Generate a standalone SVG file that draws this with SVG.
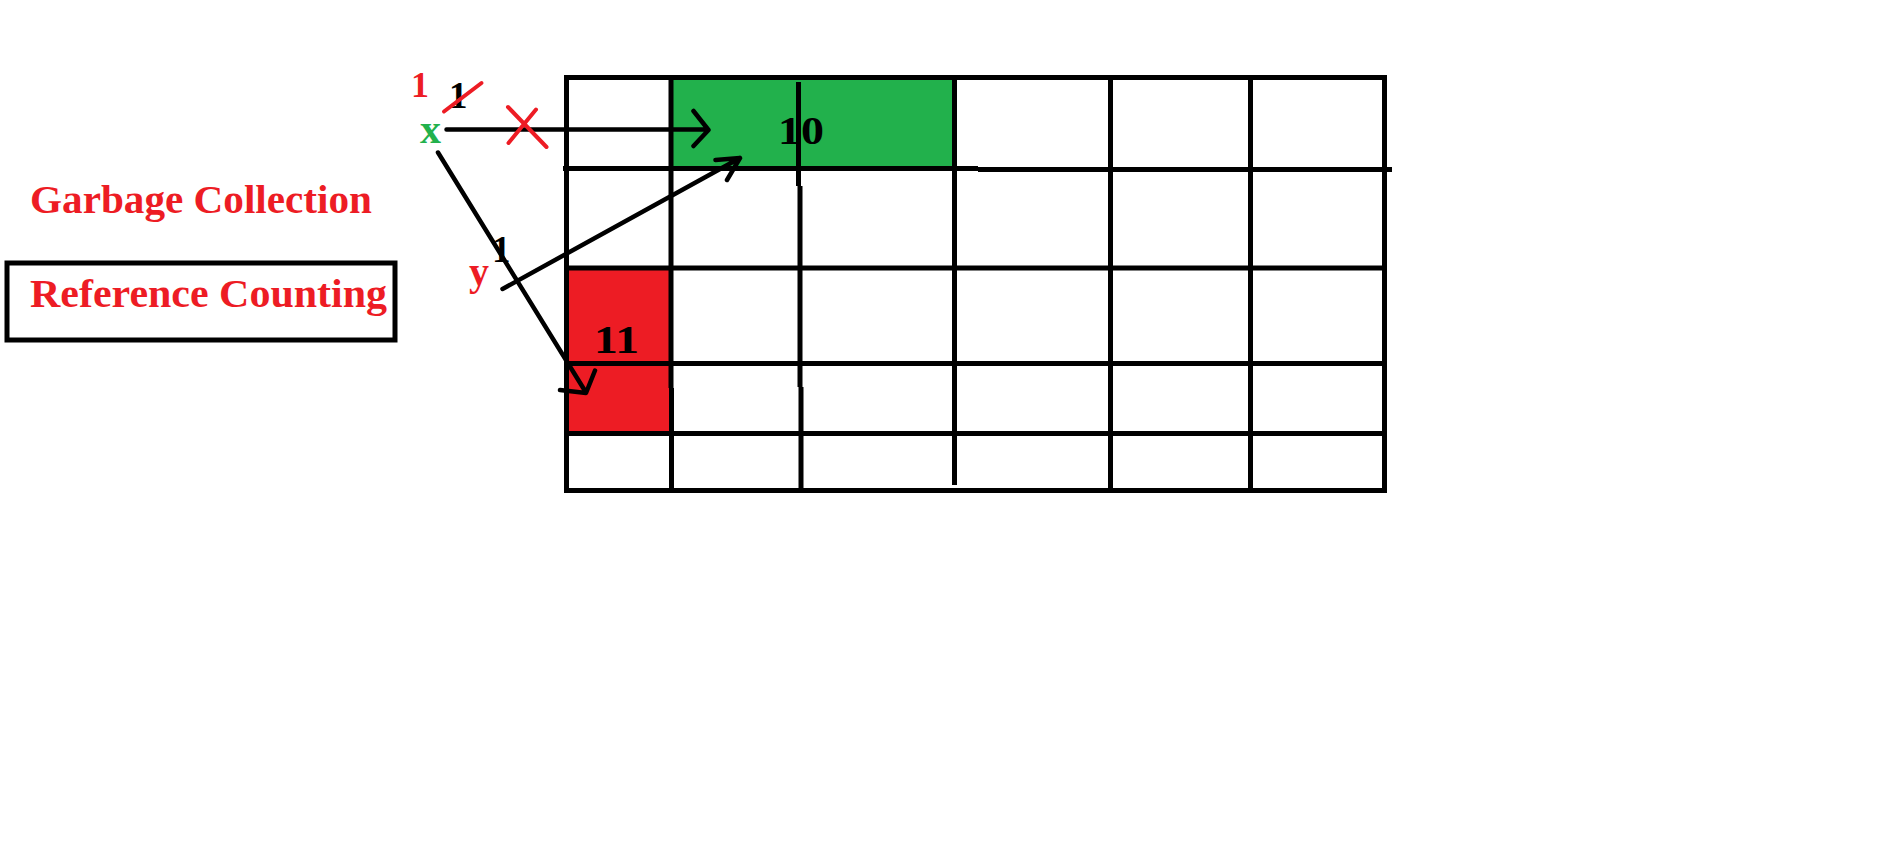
<svg xmlns="http://www.w3.org/2000/svg" width="1904" height="859" viewBox="0 0 1904 859">
<style>
.g{stroke:#000;stroke-width:5;fill:none;stroke-linecap:butt}
.a{stroke:#000;stroke-width:4.5;fill:none;stroke-linecap:round;stroke-linejoin:round}
.rs{stroke:#ED1C24;stroke-width:4;fill:none;stroke-linecap:round}
.t{font-family:"Liberation Serif","Times New Roman",serif;font-weight:bold}
.red{fill:#ED1C24}
.blk{fill:#000}
.grn{fill:#22B14C}
</style>
<rect width="1904" height="859" fill="#fff"/>
<g id="title"><text class="t red" x="30" y="212.5" font-size="40" textLength="342" lengthAdjust="spacingAndGlyphs">Garbage Collection</text></g>
<g id="ref-counting">
<rect x="7" y="263" width="388" height="77" fill="none" stroke="#000" stroke-width="5"/>
<text class="t red" x="30" y="307" font-size="40" textLength="357" lengthAdjust="spacingAndGlyphs">Reference Counting</text>
</g>
<g id="memory-grid">
<rect id="cell-10" x="672" y="79" width="281" height="88" fill="#22B14C"/>
<rect id="cell-11" x="568" y="269" width="103" height="163" fill="#ED1C24"/>
<path class="g" d="M564 77.5H1387M566.5 75V493M1384.5 75V493M564 490.5H1387"/>
<path class="g" d="M563 168.5H978M978 169.5H1392M566 268H1387M566 363.5H1387M566 433.5H1387"/>
<path class="g" d="M671 80V388M671.5 388V491M798.5 82V186M800 186V387M801 387V491M954.5 77V485M1110.5 80V491M1250.5 77V491"/>
</g>
<g id="value-10"><text class="t blk" x="778" y="144" font-size="39" textLength="46" lengthAdjust="spacingAndGlyphs">10</text></g>
<g id="value-11"><text class="t blk" x="594" y="353" font-size="39" textLength="45" lengthAdjust="spacingAndGlyphs">11</text></g>
<g id="var-x">
<text class="t red" x="411" y="96.5" font-size="36">1</text>
<text class="t blk" x="449" y="108" font-size="37">1</text>
<line class="rs" x1="444" y1="111.5" x2="481.5" y2="83" stroke-width="3.5"/>
<text class="t grn" x="420" y="142.7" font-size="42">x</text>
</g>
<g id="var-y">
<text class="t blk" x="492" y="261.5" font-size="37">1</text>
<text class="t red" x="469" y="285" font-size="40">y</text>
</g>
<g id="connectors">
<path class="a" d="M446.5 129.5H708M693.5 111L708.5 130L693.5 146" stroke-width="5"/>
<path class="a" d="M438 152.5L586 392.5M560 390L586 393L595 370.5"/>
<path class="a" d="M502.5 289L740 158M715.5 160L740 158L727 180"/>
<path class="rs" d="M508 107L546.5 147M536 109.5L508.5 143"/>
</g>
</svg>
